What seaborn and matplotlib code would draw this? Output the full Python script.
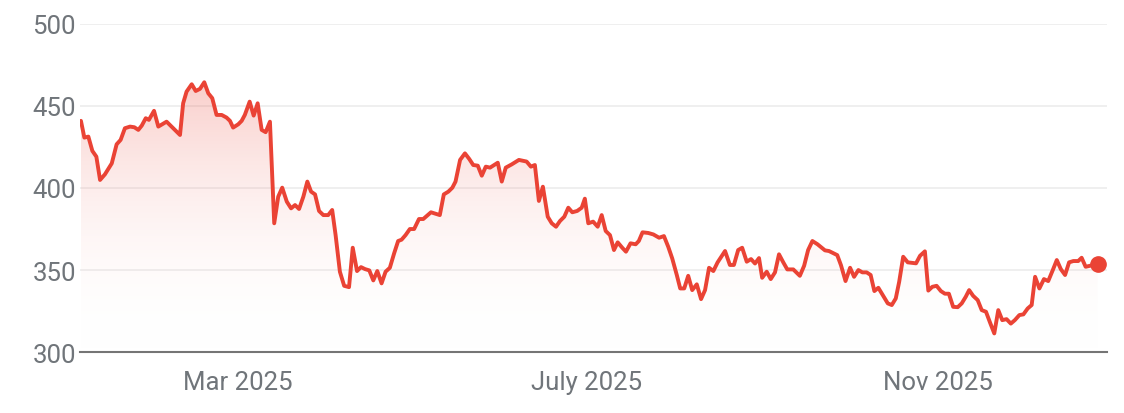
import numpy as np
import pandas as pd
import matplotlib
matplotlib.use("Agg")
import matplotlib.pyplot as plt
import matplotlib.dates as mdates
from matplotlib.colors import LinearSegmentedColormap, to_rgb
import seaborn as sns

# days since 1 Jan 2025 and closing price
day = [3.9, 5.1, 6.5, 7.9, 9.3, 10.6, 12.3, 14.7, 16.4, 17.8, 19.3, 21.1, 22.6, 24.0, 25.2,
       26.6, 27.7, 29.5, 31.0, 33.9, 36.2, 38.6, 39.7, 40.9, 42.7, 44.1, 45.6, 47.1, 48.5,
       49.9, 51.4, 53.2, 54.9, 56.1, 57.2, 59.0, 60.2, 61.3, 63.0, 64.4, 65.8, 67.2, 68.6,
       70.1, 71.6, 73.0, 74.4, 76.0, 77.5, 78.9, 80.3, 81.8, 83.2, 84.5, 85.9, 87.3, 88.8,
       90.5, 91.9, 93.1, 94.6, 96.1, 97.8, 99.1, 100.6, 102.0, 103.4, 104.9, 106.3, 107.7,
       109.2, 110.6, 112.1, 113.6, 115.0, 116.2, 117.6, 119.1, 120.6, 122.3, 123.8, 126.5,
       129.6, 131.0, 132.6, 134.0, 135.1, 136.7, 138.4, 139.9, 141.3, 142.9, 144.3, 145.7,
       147.2, 149.9, 151.3, 152.7, 154.8, 157.3, 160.0, 161.5, 162.9, 164.3, 165.7, 167.4,
       168.8, 170.3, 171.7, 173.2, 174.6, 176.0, 177.7, 179.3, 180.4, 181.6, 183.3, 184.9,
       186.3, 187.7, 189.2, 190.6, 191.9, 193.5, 194.8, 196.4, 198.2, 199.3, 200.6, 202.6,
       204.4, 206.4, 208.1, 209.6, 211.0, 212.6, 213.8, 215.2, 216.6, 218.0, 219.6, 221.1,
       222.5, 223.9, 225.4, 226.9, 229.5, 231.2, 232.6, 234.1, 235.5, 237.1, 238.6, 240.0,
       241.4, 242.5, 244.1, 245.5, 247.0, 248.4, 249.9, 251.3, 253.4, 255.7, 257.2, 258.6,
       260.1, 261.9, 264.5, 265.9, 268.8, 270.1, 271.7, 273.3, 274.7, 276.2, 277.6, 279.1,
       280.5, 281.8, 283.2, 284.9, 286.5, 287.9, 289.3, 290.5, 291.9, 293.5, 296.4, 297.8,
       299.5, 300.7, 302.1, 303.6, 305.1, 306.5, 307.9, 309.4, 311.0, 312.4, 313.8, 315.0,
       316.4, 318.0, 319.4, 320.9, 322.3, 323.8, 325.2, 326.6, 328.1, 329.6, 331.0, 332.6,
       334.0, 335.5, 336.9, 338.1, 339.6, 341.2, 342.7, 344.3, 345.7, 347.1, 348.6, 350.0,
       351.5, 353.2, 354.4, 355.8, 357.3, 360.0]
price = [440.9, 430.7, 431.3, 422.6, 419.1, 404.9, 408.3, 415.0, 426.6, 429.3, 436.4, 437.4,
         437.0, 435.4, 438.0, 442.5, 441.5, 447.0, 437.4, 440.4, 436.4, 432.3, 451.6, 458.7,
         463.2, 459.1, 460.4, 464.4, 457.7, 454.7, 444.5, 444.5, 442.9, 440.9, 436.8, 438.8,
         440.9, 444.5, 452.6, 444.1, 451.6, 435.4, 434.0, 440.4, 378.5, 394.7, 400.2, 391.7,
         387.6, 389.6, 387.2, 394.7, 403.9, 397.8, 396.1, 386.0, 383.5, 383.5, 386.6, 371.3,
         349.0, 340.4, 339.6, 363.6, 349.4, 351.8, 350.6, 349.8, 343.7, 349.4, 341.9, 349.0,
         351.4, 360.2, 367.7, 368.5, 371.3, 375.0, 375.0, 381.1, 381.1, 385.2, 383.5, 396.1,
         397.8, 400.2, 403.9, 417.1, 421.1, 417.7, 414.0, 413.6, 407.5, 413.0, 412.4, 415.4,
         403.9, 412.4, 414.4, 417.1, 416.1, 413.0, 414.0, 392.1, 400.8, 382.5, 378.5, 376.4,
         379.9, 382.5, 388.0, 385.2, 386.0, 388.0, 393.5, 378.5, 379.5, 376.4, 383.5, 373.8,
         371.3, 362.2, 366.9, 363.6, 361.2, 366.3, 365.7, 367.7, 373.0, 372.6, 371.7, 369.7,
         370.7, 364.2, 357.1, 347.0, 338.8, 338.8, 346.5, 337.8, 341.3, 332.3, 337.8, 351.4,
         349.4, 354.7, 361.6, 353.1, 353.1, 362.2, 363.6, 355.1, 356.7, 354.0, 357.3, 345.3,
         349.0, 344.5, 348.6, 359.6, 354.7, 350.4, 350.4, 346.5, 352.6, 362.2, 367.7, 365.7,
         362.0, 361.6, 359.1, 353.0, 343.3, 351.4, 345.9, 350.0, 348.6, 348.6, 347.0, 337.2,
         339.2, 334.3, 329.7, 328.7, 332.7, 342.9, 358.1, 354.7, 354.1, 358.7, 361.4, 337.5,
         339.8, 340.4, 337.2, 335.6, 335.6, 327.6, 327.4, 329.7, 333.7, 337.8, 334.3, 331.7,
         325.6, 324.6, 318.1, 311.4, 325.6, 319.5, 320.1, 317.4, 319.5, 322.6, 323.0, 326.6,
         328.7, 345.9, 338.8, 344.5, 343.3, 350.0, 356.1, 350.6, 347.0, 354.7, 355.5, 355.5,
         357.5, 352.0, 352.6, 353.4]

tick_dates = ["2025-03-01", "2025-07-01", "2025-11-01"]
tick_labels = ["Mar 2025", "July 2025", "Nov 2025"]
y_ticks = [300, 350, 400, 450, 500]

RED = "#ea4335"
GREY = "#70757a"

df = pd.DataFrame({
    "date": pd.Timestamp("2025-01-01") + pd.to_timedelta(day, unit="D"),
    "price": price,
})

sns.set_style("white")
plt.rcParams["font.family"] = ["Roboto", "DejaVu Sans"]

fig, ax = plt.subplots(figsize=(11.24, 4.14), dpi=100)
fig.subplots_adjust(left=0.0712, right=0.985, bottom=0.147, top=0.94)

# gradient fill under the line
poly = ax.fill_between(df["date"], df["price"], 300, color="none", lw=0)
xnum = mdates.date2num(df["date"])
cmap = LinearSegmentedColormap.from_list("fade", [(1, 1, 1, 0), (*to_rgb(RED), 0.26)])
grad = np.linspace(0, 1, 256).reshape(-1, 1)
img = ax.imshow(grad, cmap=cmap, aspect="auto", origin="lower",
                extent=[xnum.min(), xnum.max(), 300, df["price"].max()], zorder=1)
img.set_clip_path(poly.get_paths()[0], transform=ax.transData)

sns.lineplot(data=df, x="date", y="price", color=RED, linewidth=2.8, ax=ax, zorder=3)
ax.plot(df["date"].iloc[-1], df["price"].iloc[-1], "o", color=RED, ms=11, zorder=4)

ax.set_xlim(pd.Timestamp("2025-01-04 14:00"), pd.Timestamp("2025-12-30 08:00"))
ax.set_ylim(300, 500)
ax.set_yticks(y_ticks)
ax.set_xticks(pd.to_datetime(tick_dates))
ax.set_xticklabels(tick_labels)
ax.set_xlabel("")
ax.set_ylabel("")

ax.grid(axis="y", color="#efefef", lw=1.4)
ax.grid(axis="x", visible=False)
for side in ["top", "right", "left"]:
    ax.spines[side].set_visible(False)
ax.spines["bottom"].set_color("#757575")
ax.spines["bottom"].set_linewidth(1.5)
ax.spines["bottom"].set_zorder(5)

ax.tick_params(axis="y", length=0, pad=3, labelsize=18.5, labelcolor=GREY)
ax.tick_params(axis="x", length=9, width=1.2, color="#757575", pad=4,
               labelsize=18.5, labelcolor=GREY)

fig.savefig("out.png", dpi=100)
